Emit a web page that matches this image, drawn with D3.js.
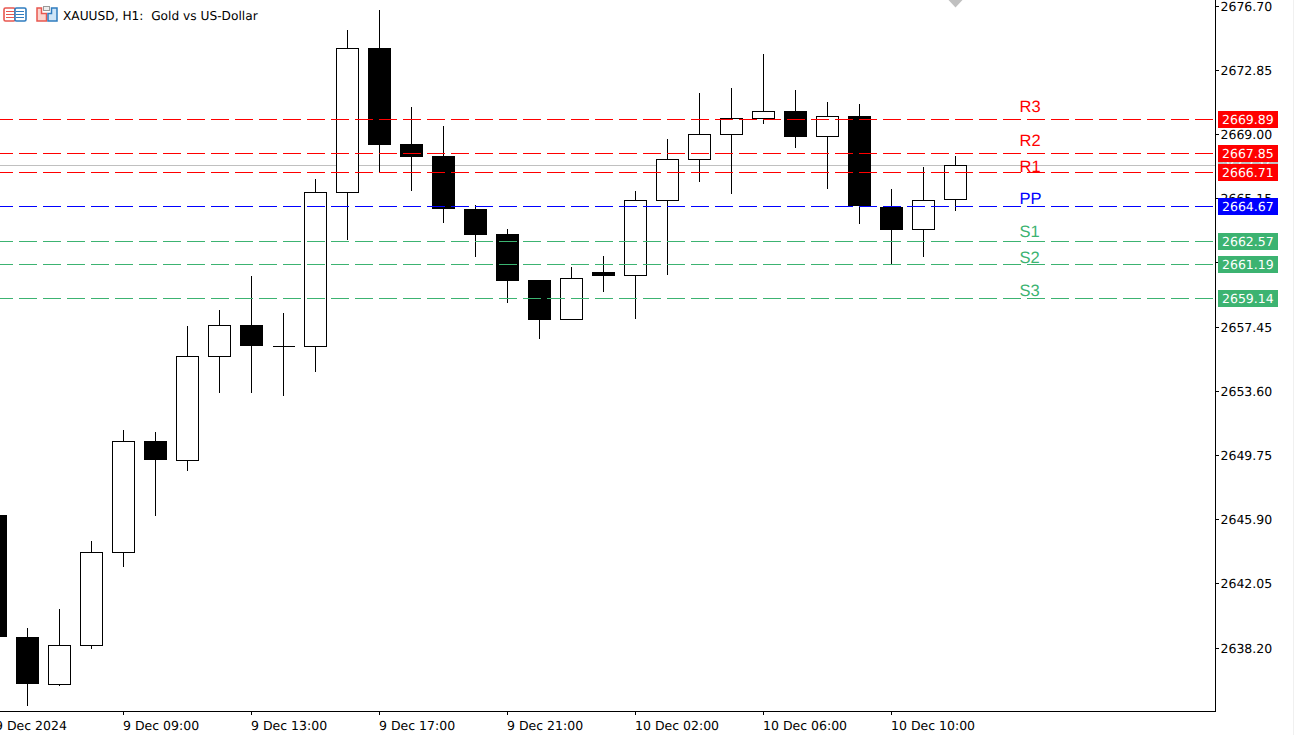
<!DOCTYPE html>
<html>
<head>
<meta charset="utf-8">
<script src="https://cdn.jsdelivr.net/npm/d3@7/dist/d3.min.js"></script>
<style>
html,body{margin:0;padding:0;background:#fff;overflow:hidden}
svg{display:block}
text{font-family:"DejaVu Sans",sans-serif;text-rendering:geometricPrecision}
</style>
</head>
<body>
<svg id="chart" width="1294" height="735"></svg>
<script>
// XAUUSD H1 candles, oldest first
const opens  = [2646.18,2638.86,2636.04,2638.38,2643.96,2650.61,2649.47,2655.71,2657.57,2656.31,2656.31,2665.55,2674.18,2668.42,2667.70,2664.53,2663.03,2660.27,2657.93,2660.75,2660.57,2665.07,2667.52,2669.02,2669.98,2670.40,2668.90,2670.10,2664.65,2663.33,2665.13];
const highs  = [2648.00,2639.40,2640.54,2644.62,2651.27,2651.15,2657.51,2658.47,2660.51,2658.29,2666.33,2675.26,2676.46,2670.64,2669.50,2664.77,2663.33,2660.27,2661.05,2661.71,2665.61,2668.72,2671.48,2671.78,2673.82,2671.66,2670.94,2670.82,2665.73,2667.04,2667.70];
const lows   = [2636.00,2634.72,2635.92,2638.14,2643.06,2646.12,2648.81,2653.49,2653.49,2653.31,2654.75,2662.67,2666.74,2665.61,2663.69,2661.65,2658.89,2656.73,2657.87,2659.55,2657.93,2660.57,2666.15,2665.43,2669.62,2668.18,2665.73,2663.63,2661.23,2661.65,2664.41];
const closes = [2638.86,2636.04,2638.38,2643.96,2650.61,2649.47,2655.71,2657.57,2656.31,2656.31,2665.55,2674.18,2668.36,2667.64,2664.53,2662.97,2660.21,2657.87,2660.39,2660.51,2665.07,2667.52,2669.02,2669.98,2670.40,2668.84,2670.10,2664.71,2663.27,2665.07,2667.16];

// Daily pivot levels
const levelNames  = ["R3","R2","R1","PP","S1","S2","S3"];
const levelValues = [2669.89,2667.85,2666.71,2664.67,2662.57,2661.19,2659.14];
const levelColors = ["#ff0000","#ff0000","#ff0000","#0000ff","#3cb371","#3cb371","#3cb371"];
const levelTagPrices = [2670.32,2668.28,2666.73,2664.81,2662.83,2661.27,2659.29];

const bidPrice = 2667.16;

const priceTicks = [2676.70,2672.85,2669.00,2665.15,2661.30,2657.45,2653.60,2649.75,2645.90,2642.05,2638.20];
const timeTickBars = [0,4,8,12,16,20,24,28];
const timeTickLabels = ["9 Dec 2024","9 Dec 09:00","9 Dec 13:00","9 Dec 17:00","9 Dec 21:00","10 Dec 02:00","10 Dec 06:00","10 Dec 10:00"];

const title = "XAUUSD, H1:  Gold vs US-Dollar";

const plotRight = 1215, plotBottom = 711;
const svg = d3.select("#chart");

const x = d3.scaleLinear().domain([0, 1]).range([-5, 27]);
const y = d3.scaleLinear().domain([2676.70, 2638.20]).range([5.6, 647.6]);
const px = v => Math.round(y(v)) + 0.5;
const bx = i => Math.round(x(i)) + 0.5;
const bodyHalf = 11;

// Current bid line sits behind the candles
svg.append("line").attr("x1", 0).attr("x2", plotRight)
  .attr("y1", px(bidPrice)).attr("y2", px(bidPrice))
  .attr("stroke", "#c0c0c0").attr("shape-rendering", "crispEdges");

// Candles
const bars = svg.append("g").attr("shape-rendering", "crispEdges")
  .selectAll("g").data(d3.range(opens.length)).join("g");

bars.append("line")
  .attr("x1", bx).attr("x2", bx)
  .attr("y1", i => px(highs[i]) - 0.5).attr("y2", i => px(lows[i]) - 0.5)
  .attr("stroke", "#000");

// A path rather than a rect, so that an open-equals-close bar still shows as a dash.
// Bearish bodies stop one row short of their lower price.
bars.append("path")
  .attr("d", i => {
    const bearish = closes[i] < opens[i];
    const top = px(Math.max(opens[i], closes[i]));
    const bottom = px(Math.min(opens[i], closes[i])) - (bearish ? 1 : 0);
    return `M${bx(i) - bodyHalf} ${top}H${bx(i) + bodyHalf}V${bottom}H${bx(i) - bodyHalf}Z`;
  })
  .attr("fill", i => closes[i] < opens[i] ? "#000" : "#fff")
  .attr("stroke", "#000");

// Pivot lines are drawn over the candles
svg.append("g").attr("shape-rendering", "crispEdges")
  .selectAll("line").data(levelValues).join("line")
  .attr("x1", -5).attr("x2", plotRight)
  .attr("y1", px).attr("y2", px)
  .attr("stroke", (d, i) => levelColors[i])
  .attr("stroke-dasharray", "18 6");

svg.append("g").selectAll("text").data(levelNames).join("text")
  .attr("x", 1019.5)
  .attr("y", (d, i) => y(levelTagPrices[i]))
  .attr("fill", (d, i) => levelColors[i])
  .style("font-family", '"Liberation Sans",Arial,sans-serif')
  .style("font-size", "16.5px")
  .text(d => d);

// Axes
const yAxis = d3.axisRight(y).tickValues(priceTicks).tickFormat(d3.format(".2f")).tickSize(3).tickPadding(2);
const gy = svg.append("g").attr("transform", `translate(${plotRight + 0.5},0)`).call(yAxis);
gy.select(".domain").remove();
gy.selectAll(".tick").attr("transform", d => `translate(0,${px(d)})`);
gy.selectAll(".tick line").attr("stroke", "#000").attr("shape-rendering", "crispEdges");
gy.selectAll(".tick text").attr("fill", "#000").attr("dy", "0.38em").style("font-size", "12.5px").attr("font-family", null);

const xAxis = d3.axisBottom(x).tickValues(timeTickBars).tickFormat((d, i) => timeTickLabels[i]).tickSize(3).tickPadding(4);
const gx = svg.append("g").attr("transform", `translate(0,${plotBottom + 0.5})`).call(xAxis);
gx.select(".domain").remove();
gx.selectAll(".tick line").attr("stroke", "#000").attr("shape-rendering", "crispEdges");
gx.selectAll(".tick text").attr("fill", "#000").attr("text-anchor", "start").attr("x", -0.5).attr("dy", "0.9em").style("font-size", "12.5px").attr("font-family", null);

svg.append("line").attr("x1", 0).attr("x2", plotRight + 1).attr("y1", plotBottom + 0.5).attr("y2", plotBottom + 0.5).attr("stroke", "#000").attr("shape-rendering", "crispEdges");
svg.append("line").attr("x1", plotRight + 0.5).attr("x2", plotRight + 0.5).attr("y1", 0).attr("y2", plotBottom + 1).attr("stroke", "#000").attr("shape-rendering", "crispEdges");

// Price tags on the right-hand scale
const drawTag = (value, color) => {
  const cy = px(value);
  const g = svg.append("g");
  g.append("rect").attr("x", 1218).attr("y", cy - 8.5).attr("width", 60).attr("height", 17).attr("fill", color);
  g.append("text").attr("x", 1222).attr("y", cy).attr("dy", "0.38em").attr("fill", "#fff").style("font-size", "12.5px").text(value.toFixed(2));
};
drawTag(bidPrice, "#c0c0c0");
levelValues.forEach((v, i) => drawTag(v, levelColors[i]));

// Marker for the last bar at the top edge
svg.append("path").attr("d", d3.line()([[948.5, 0], [962.5, 0], [955.5, 7.5]])).attr("fill", "#c0c0c0");

// Window chrome on the far right
svg.append("rect").attr("x", 1293).attr("y", 0).attr("width", 1).attr("height", 735).attr("fill", "#f0f0f0");

// Title icons
const icons = svg.append("g");
const red = "#e8574f", blue = "#2f7cbf";
icons.append("rect").attr("x", 4).attr("y", 8).attr("width", 11).attr("height", 13).attr("rx", 1.5).attr("fill", "#fff").attr("stroke", red).attr("stroke-width", 1.6);
icons.append("rect").attr("x", 15).attr("y", 8).attr("width", 11).attr("height", 13).attr("rx", 1.5).attr("fill", "#fff").attr("stroke", blue).attr("stroke-width", 1.6);
[11.5, 14.5, 17.5].forEach(t => {
  icons.append("line").attr("x1", 6).attr("x2", 14).attr("y1", t).attr("y2", t).attr("stroke", red);
  icons.append("line").attr("x1", 16).attr("x2", 24).attr("y1", t).attr("y2", t).attr("stroke", blue);
});
icons.append("path").attr("d", "M37 8H41.5V13.5H46.5V21H37Z").attr("fill", "#fbd5cf").attr("stroke", red).attr("stroke-width", 1.5);
icons.append("path").attr("d", "M48 21V13.5H51.5V8H57V21Z").attr("fill", "#cfe5f7").attr("stroke", blue).attr("stroke-width", 1.5);
icons.append("rect").attr("x", 43.5).attr("y", 6.5).attr("width", 6).attr("height", 4).attr("fill", "#eee").attr("stroke", "#999");

svg.append("text").attr("x", 63).attr("y", 19.5).attr("fill", "#000").style("font-size", "12.2px").style("white-space", "pre").text(title);
</script>
</body>
</html>
